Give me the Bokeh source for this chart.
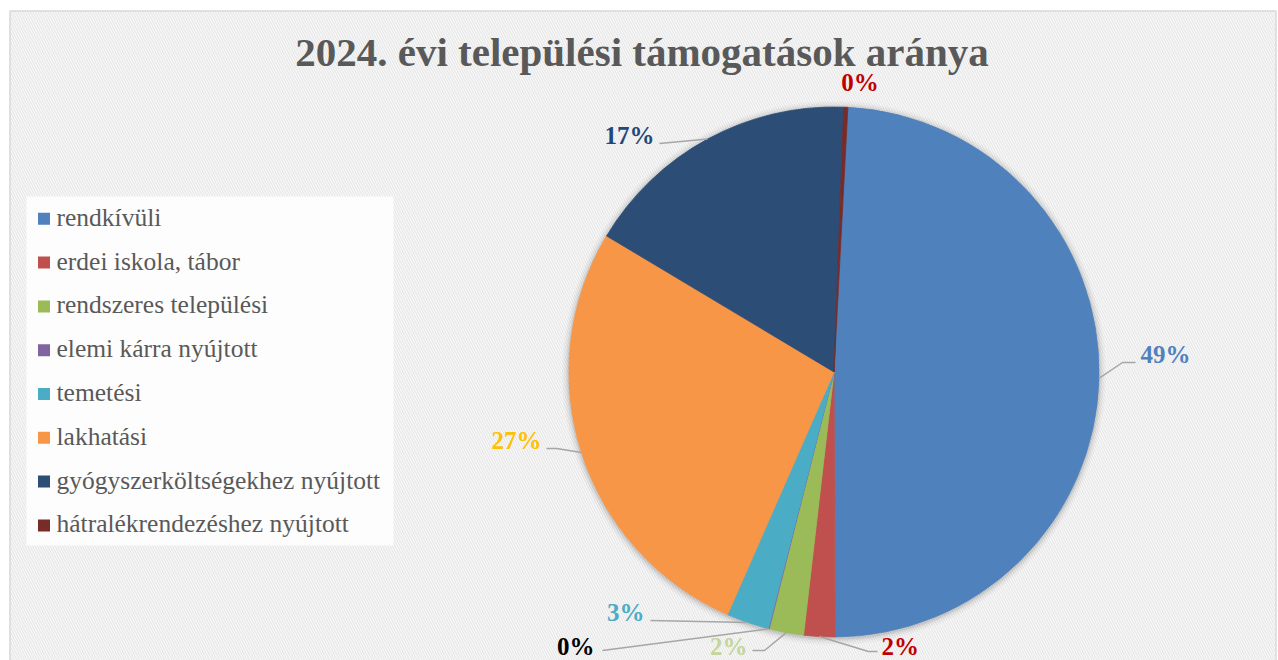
import math
from bokeh.plotting import figure
from bokeh.models import Range1d, ColumnDataSource
from bokeh.core.properties import value
from bokeh.embed import file_html
from bokeh.resources import INLINE

# ---------------- data ----------------
title = "2024. évi települési támogatások aránya"
categories = [
    "rendkívüli",
    "erdei iskola, tábor",
    "rendszeres települési",
    "elemi kárra nyújtott",
    "temetési",
    "lakhatási",
    "gyógyszerköltségekhez nyújtott",
    "hátralékrendezéshez nyújtott",
]
shares = [49.1, 1.9, 2.1, 0.05, 2.6, 27.0, 17.0, 0.25]

# ---------------- styles ----------------
slice_colors = ["#4F81BD", "#C0504D", "#9BBB59", "#8064A2",
                "#4BACC6", "#F79646", "#2C4D75", "#772C2A"]
label_colors = ["#4F81BD", "#C00000", "#C3D69B", "#000000",
                "#4BACC6", "#FFC000", "#1F497D", "#C00000"]
FONT = value("Liberation Serif")
TEXT_GREY = "#595959"

W, H = 1278, 660
BASE_FIX = 0.36  # em shift so that the drawn baseline lands where wanted


def X(sx):
    return sx


def Y(sy):
    return H - sy


def YB(sy, fs):
    return Y(sy - BASE_FIX * fs)


CX, CY, R = X(833.5), Y(371.5), 265
FIRST_ANGLE = 3.0  # degrees, clockwise from 12 o'clock

# label layout: (text x, text baseline y, align, leader elbow points) in page pixels
label_layout = [
    (1140, 363, "left", [(1122, 362), (1135, 362)]),
    (881, 655, "left", [(868, 651), (877, 651)]),
    (747, 655, "right", [(764, 650), (752, 650)]),
    (594, 655, "right", [(602, 650)]),
    (644, 621, "right", [(650, 620)]),
    (541, 449, "right", [(556, 448), (546, 448)]),
    (654, 144, "right", [(659, 143)]),
    (859.5, 91, "center", []),
]

LEG_X, LEG_TOP, LEG_STEP = 43.5, 218.3, 43.8
TITLE_FS, LEG_FS, LAB_FS = 41, 25.5, 25

# ---------------- geometry from data ----------------
total = sum(shares)
starts, ends, mids = [], [], []
acc = FIRST_ANGLE
for s in shares:
    a0, a1 = acc, acc + s / total * 360.0
    starts.append(math.radians(90 - a0))
    ends.append(math.radians(90 - a1))
    mids.append(math.radians(90 - (a0 + a1) / 2))
    acc = a1

pct_labels = [f"{round(s / total * 100):.0f}%" for s in shares]

p = figure(width=W, height=H, output_backend="svg", toolbar_location=None,
           x_range=Range1d(0, W), y_range=Range1d(0, H),
           x_axis_type=None, y_axis_type=None, min_border=0,
           background_fill_color="white", border_fill_color="white")
p.grid.visible = False
p.outline_line_color = None

# striped background
p.quad(left=[X(9)], right=[X(1275)], top=[Y(10)], bottom=[Y(700)],
       fill_color="white", line_color=None,
       hatch_pattern="\\", hatch_color="#E9E9E9", hatch_scale=5, hatch_weight=1.6)
# chart border
p.quad(left=[X(9.5)], right=[X(1275.5)], top=[Y(10.5)], bottom=[Y(700)],
       fill_color=None, line_color="#D9D9D9", line_width=1.5)

# title
p.text(x=[X(641.5)], y=[YB(66.5, TITLE_FS)], text=[title], text_align="center",
       text_baseline="alphabetic", text_font=FONT, text_font_style="bold",
       text_font_size=f"{TITLE_FS}px", text_color=TEXT_GREY)

# legend box
p.quad(left=[X(26)], right=[X(393)], top=[Y(196)], bottom=[Y(545)],
       fill_color="white", fill_alpha=0.85, line_color=None)
leg_y = [LEG_TOP + i * LEG_STEP for i in range(len(categories))]
p.scatter(x=[X(LEG_X)] * len(categories), y=[Y(v) for v in leg_y], marker="square",
          size=12, fill_color=slice_colors, line_color=None)
p.text(x=[X(56)] * len(categories), y=[YB(v + 7.7, LEG_FS) for v in leg_y], text=categories,
       text_baseline="alphabetic", text_font=FONT, text_font_size=f"{LEG_FS}px",
       text_color=TEXT_GREY)

# pie shadow
for k, a in [(7, 0.025), (5, 0.035), (3, 0.05), (1.5, 0.07)]:
    p.circle(x=[CX], y=[CY - 1], radius=R + k, fill_color="black",
             fill_alpha=a, line_color=None)

# pie
src = ColumnDataSource(dict(start=starts, end=ends, color=slice_colors, cat=categories,
                            share=shares))
p.wedge(x=CX, y=CY, radius=R, start_angle="start", end_angle="end", direction="clock",
        fill_color="color", line_color="color", line_width=0.8, source=src)

# leader lines + labels
xs, ys = [], []
for i, (tx, ty, align, elbows) in enumerate(label_layout):
    if elbows:
        ex = CX + R * math.cos(mids[i])
        ey = CY + R * math.sin(mids[i])
        xs.append([ex] + [X(e[0]) for e in elbows])
        ys.append([ey] + [Y(e[1]) for e in elbows])
p.multi_line(xs=xs, ys=ys, line_color="#A6A6A6", line_width=1.5)

for i, (tx, ty, align, elbows) in enumerate(label_layout):
    p.text(x=[X(tx)], y=[YB(ty, LAB_FS)], text=[pct_labels[i]], text_align=align,
           text_baseline="alphabetic", text_font=FONT, text_font_style="bold",
           text_font_size=f"{LAB_FS}px", text_color=label_colors[i])

open("out.html", "w").write(file_html(p, INLINE))
